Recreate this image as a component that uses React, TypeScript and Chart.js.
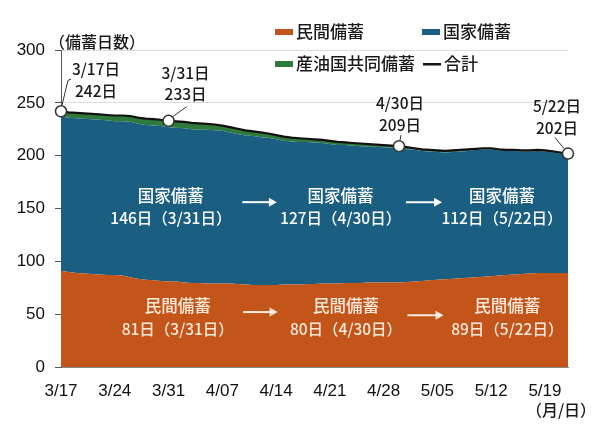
import React, { useEffect, useRef } from "react";
import { Chart, registerables } from "chart.js";
Chart.register(...registerables);

// ---- data ----
const START_MONTH = 3;
const START_DAY = 17;
const N_DAYS = 67;
const DATES: string[] = [];
for (let i = 0; i < N_DAYS; i++) {
  const t = new Date(2025, START_MONTH - 1, START_DAY + i);
  DATES.push(`${t.getMonth() + 1}/${String(t.getDate()).padStart(2, "0")}`);
}
const X_TICK_LABELS = ["3/17", "3/24", "3/31", "4/07", "4/14", "4/21", "4/28", "5/05", "5/12", "5/19"];
const Y_TICKS = [0, 50, 100, 150, 200, 250, 300];

const PRIVATE = [
  91, 90, 89, 88.5, 88, 87.5, 87, 87, 86.5, 85, 83.5, 82.5, 82, 81.5, 81, 81, 80, 79.5, 79.5, 79,
  79, 79, 79, 78.5, 78, 77.5, 77.5, 77.5, 77.5, 78, 78, 78, 78.5, 78.5, 79, 79, 79, 79.5, 79.5, 79.5,
  80, 80, 80, 80, 80, 80.5, 81, 81.5, 82, 82.5, 83, 83.5, 84, 84.5, 85, 85.5, 86, 86.5, 87, 87.5,
  88, 88.5, 89, 89, 89, 89, 89,
];
const NATIONAL = [
  146, 146, 146.5, 146.5, 146.5, 146.5, 146.5, 145.5, 146, 147, 147, 146.5, 146.5, 146.5, 146, 145.5, 146, 145.5, 145, 145.5,
  145, 144.5, 143, 142, 141, 141, 140, 139.5, 138, 136, 135.5, 135, 134.5, 134, 133, 132, 131, 130.5, 130, 129.5,
  128.5, 128.5, 128, 127.5, 127, 125.5, 124.5, 123, 122, 121, 120, 120, 120, 120, 120.5, 120.5, 120, 118.5, 117.5, 117,
  116, 115.5, 115.5, 115, 114, 113, 112,
];
const JOINT = [
  5, 5, 5, 5, 5, 5, 5, 5.5, 5.5, 5.5, 5.5, 6, 6, 6, 6, 6, 6, 6, 6, 5.5,
  5.5, 5, 5, 5, 5, 4.5, 4.5, 4, 4, 4, 3.5, 3.5, 3, 3, 3, 3, 3, 2.5, 2.5, 2.5,
  2.5, 2, 2, 2, 2, 2, 1.5, 1.5, 1.5, 1.5, 1.5, 1.5, 1.5, 1.5, 1, 1, 1, 1, 1, 1,
  1, 1, 1, 1, 1, 1, 1,
];
const TOTAL = [
  242, 241, 240.5, 240, 239.5, 239, 238.5, 238, 238, 237.5, 236, 235, 234.5, 234, 233, 232.5, 232, 231, 230.5, 230,
  229.5, 228.5, 227, 225.5, 224, 223, 222, 221, 219.5, 218, 217, 216.5, 216, 215.5, 215, 214, 213, 212.5, 212, 211.5,
  211, 210.5, 210, 209.5, 209, 208, 207, 206, 205.5, 205, 204.5, 205, 205.5, 206, 206.5, 207, 207, 206, 205.5, 205.5,
  205, 205, 205.5, 205, 204, 203, 202,
];

const MARKED = [0, 14, 44, 66];
const MARK_LABELS = [
  ["3/17日", "242日"],
  ["3/31日", "233日"],
  ["4/30日", "209日"],
  ["5/22日", "202日"],
];

const NATIONAL_NOTES = [
  ["国家備蓄", "146日（3/31日）"],
  ["国家備蓄", "127日（4/30日）"],
  ["国家備蓄", "112日（5/22日）"],
];
const PRIVATE_NOTES = [
  ["民間備蓄", "81日（3/31日）"],
  ["民間備蓄", "80日（4/30日）"],
  ["民間備蓄", "89日（5/22日）"],
];

const C_PRIVATE = "#C4551A";
const C_NATIONAL = "#1A5E82";
const C_JOINT = "#2E7A3A";
const C_TOTAL = "#111111";

const CJK = '"Noto Sans CJK JP", "Noto Sans", sans-serif';
const LATIN = '"Liberation Sans", Arial, sans-serif';
const W = "500";

const overlay = {
  id: "overlay",
  afterDatasetsDraw(chart: any) {
    const ctx = chart.ctx;
    const x = chart.scales.x;
    const y = chart.scales.y;
    ctx.save();
    ctx.textAlign = "center";
    ctx.textBaseline = "middle";
    const natX = [14.3, 36.4, 57.4];
    const priX = [15.2, 37.1, 58.1];
    NATIONAL_NOTES.forEach((n, i) => {
      const px = x.getPixelForValue(natX[i]);
      ctx.fillStyle = "#ffffff";
      ctx.font = `${W} 16.5px ${CJK}`;
      ctx.fillText(n[0], px, y.getPixelForValue(161.8));
      ctx.font = `${W} 15.5px ${CJK}`;
      ctx.fillText(n[1], px, y.getPixelForValue(141));
    });
    PRIVATE_NOTES.forEach((n, i) => {
      const px = x.getPixelForValue(priX[i]);
      ctx.fillStyle = "#FCEBDC";
      ctx.font = `${W} 16.5px ${CJK}`;
      ctx.fillText(n[0], px, y.getPixelForValue(57.7));
      ctx.font = `${W} 15.5px ${CJK}`;
      ctx.fillText(n[1], px, y.getPixelForValue(36));
    });
    const arrows = [
      [23.6, 28.1, 156, "#ffffff"],
      [44.9, 49.6, 156, "#ffffff"],
      [23.7, 28.2, 52, "#FCEBDC"],
      [45.1, 49.8, 49, "#FCEBDC"],
    ] as any[];
    arrows.forEach(([a, b, v, col]) => {
      const x1 = x.getPixelForValue(a);
      const x2 = x.getPixelForValue(b);
      const py = y.getPixelForValue(v);
      ctx.strokeStyle = col;
      ctx.fillStyle = col;
      ctx.lineWidth = 2;
      ctx.beginPath();
      ctx.moveTo(x1, py);
      ctx.lineTo(x2 - 4, py);
      ctx.stroke();
      ctx.beginPath();
      ctx.moveTo(x2, py);
      ctx.lineTo(x2 - 8, py - 4.5);
      ctx.lineTo(x2 - 8, py + 4.5);
      ctx.closePath();
      ctx.fill();
    });
    ctx.restore();
  },
  afterDraw(chart: any) {
    const ctx = chart.ctx;
    const x = chart.scales.x;
    const y = chart.scales.y;
    ctx.save();
    const labelOff = [
      [35, -42, -20],
      [17, -48, -27],
      [1, -43, -21],
      [-11, -47, -25],
    ];
    const leaders = [
      [[1, -6], [7, -31], [10, -32]],
      [[4, -4], [18, -14]],
      [[1, -6], [2, -11]],
      [[-4, -5], [-13, -16]],
    ];
    MARKED.forEach((idx, i) => {
      const cx = x.getPixelForValue(idx);
      const cy = y.getPixelForValue(TOTAL[idx]);
      ctx.strokeStyle = "#333";
      ctx.lineWidth = 1;
      ctx.beginPath();
      leaders[i].forEach((p, k) => {
        if (k === 0) ctx.moveTo(cx + p[0], cy + p[1]);
        else ctx.lineTo(cx + p[0], cy + p[1]);
      });
      ctx.stroke();
      ctx.fillStyle = "#1a1a1a";
      ctx.font = `${W} 15.5px ${CJK}`;
      ctx.textAlign = "center";
      ctx.textBaseline = "middle";
      ctx.fillText(MARK_LABELS[i][0], cx + labelOff[i][0], cy + labelOff[i][1]);
      ctx.fillText(MARK_LABELS[i][1], cx + labelOff[i][0], cy + labelOff[i][2]);
    });
    ctx.fillStyle = "#1a1a1a";
    ctx.font = `${W} 16px ${CJK}`;
    ctx.textAlign = "left";
    ctx.textBaseline = "middle";
    ctx.fillText("（備蓄日数）", 49, 42);
    ctx.textAlign = "center";
    ctx.fillText("（月/日）", 561, 410);
    const items = [
      [275, 32, C_PRIVATE, "民間備蓄", "box"],
      [422, 32, C_NATIONAL, "国家備蓄", "box"],
      [275, 64, C_JOINT, "産油国共同備蓄", "box"],
      [423, 64, C_TOTAL, "合計", "line"],
    ] as any[];
    ctx.font = `${W} 17px ${CJK}`;
    ctx.textAlign = "left";
    items.forEach(([lx, ly, col, txt, kind]) => {
      ctx.fillStyle = col;
      if (kind === "box") ctx.fillRect(lx, ly - 3, 18, 6);
      else ctx.fillRect(lx, ly - 1, 18, 2.5);
      ctx.fillStyle = "#1a1a1a";
      ctx.fillText(txt, lx + 21, ly);
    });
    ctx.restore();
  },
};

export default function App() {
  const ref = useRef<HTMLCanvasElement>(null);
  useEffect(() => {
    document.body.style.margin = "0";
    const chart = new Chart(ref.current!, {
      type: "line",
      data: {
        labels: DATES,
        datasets: [
          {
            label: "民間備蓄",
            data: PRIVATE,
            backgroundColor: C_PRIVATE,
            borderWidth: 0,
            pointRadius: 0,
            fill: "origin",
            stack: "areas",
            order: 1,
          },
          {
            label: "国家備蓄",
            data: NATIONAL,
            backgroundColor: C_NATIONAL,
            borderWidth: 0,
            pointRadius: 0,
            fill: "-1",
            stack: "areas",
            order: 1,
          },
          {
            label: "産油国共同備蓄",
            data: JOINT,
            backgroundColor: C_JOINT,
            borderWidth: 0,
            pointRadius: 0,
            fill: "-1",
            stack: "areas",
            order: 1,
          },
          {
            label: "合計",
            data: TOTAL,
            borderColor: C_TOTAL,
            borderWidth: 2.2,
            fill: false,
            stack: "total",
            order: 0,
            clip: false as any,
            pointRadius: (c: any) => (MARKED.includes(c.dataIndex) ? 5.5 : 0),
            pointBackgroundColor: "#ffffff",
            pointBorderColor: "#333333",
            pointBorderWidth: 1.5,
          },
        ],
      },
      options: {
        animation: false,
        responsive: false,
        devicePixelRatio: 1,
        layout: { padding: { top: 50, right: 32, left: 0, bottom: 0 } },
        plugins: { legend: { display: false }, tooltip: { enabled: false } },
        elements: { line: { tension: 0 } },
        scales: {
          x: {
            offset: false,
            grid: { display: false, drawTicks: false },
            border: { display: true, color: "#888" },
            ticks: {
              autoSkip: false,
              maxRotation: 0,
              padding: 14,
              color: "#111",
              font: { family: LATIN, size: 17 },
              callback: (_v: any, i: number) => (i % 7 === 0 ? X_TICK_LABELS[i / 7] : ""),
            },
            afterFit: (s: any) => {
              s.height = 72;
            },
          },
          y: {
            stacked: true,
            min: 0,
            max: 300,
            afterBuildTicks: (s: any) => {
              s.ticks = Y_TICKS.map((v) => ({ value: v }));
            },
            grid: { color: "#dcdcdc", tickLength: 6, tickColor: "#555" },
            border: { display: true, color: "#555" },
            ticks: {
              padding: 10,
              color: "#111",
              font: { family: LATIN, size: 17 },
            },
            afterFit: (s: any) => {
              s.width = 61;
            },
          },
        },
      },
      plugins: [overlay],
    });
    return () => chart.destroy();
  }, []);
  return (
    <div style={{ width: 600, height: 439, background: "#fff" }}>
      <canvas ref={ref} width={600} height={439} />
    </div>
  );
}
